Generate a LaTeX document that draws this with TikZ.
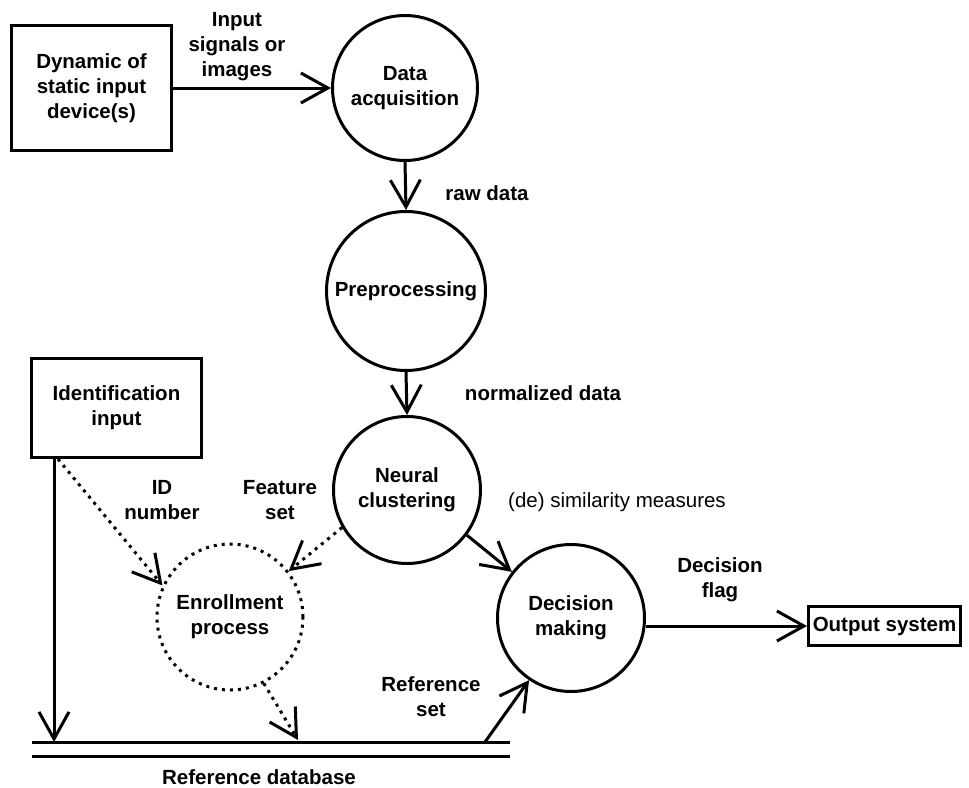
\documentclass[tikz,border=0pt]{standalone}
\usepackage{fontspec}
\setmainfont{Liberation Sans}
\usetikzlibrary{arrows.meta,calc}

\begin{document}
\begin{tikzpicture}[x=1pt, y=-1pt,
  every node/.style={font=\fontsize{20.5}{25}\selectfont\bfseries, align=center},
  box/.style={draw, line width=3pt, inner sep=0pt},
  proc/.style={draw, circle, line width=3pt, inner sep=0pt},
  enrolproc/.style={proc, dash pattern=on 3pt off 5pt},
  arr/.style={-{Straight Barb[length=27pt, width=30pt]}, line width=3pt},
  dotarr/.style={arr, dash pattern=on 3pt off 5pt},
  plainlbl/.style={font=\fontsize{20.5}{25}\selectfont\mdseries}
]
  \useasboundingbox (0,0) rectangle (969,787);

  \node[box, minimum width=160pt, minimum height=125pt] (dev) at (91.5,88) {Dynamic of\\static input\\device(s)};
  \node[proc, minimum size=145pt] (acq) at (405,88) {Data\\acquisition};
  \node[proc, minimum size=159pt] (prep) at (406,291) {Preprocessing};
  \node[proc, minimum size=147pt] (neur) at (407,490) {Neural\\clustering};
  \node[proc, minimum size=147pt] (dec) at (571,618) {Decision\\making};
  \node[enrolproc, minimum size=146pt] (enrol) at (230,617) {Enrollment\\process};
  \node[box, minimum width=170pt, minimum height=99pt] (idin) at (116.5,408) {Identification\\input};
  \node[box, minimum width=152pt, minimum height=39pt] (outsys) at (884.5,626) {Output system};

  % reference database
  \coordinate (dbl) at (32,742);
  \coordinate (dbr) at (510,742);
  \coordinate (dbl2) at (32,756);
  \coordinate (dbr2) at (510,756);
  \draw[line width=3pt] (dbl) -- (dbr);
  \draw[line width=3pt] (dbl2) -- (dbr2);
  \coordinate (idfoot) at (54,742);
  \coordinate (enrfoot) at (298,740);
  \coordinate (refstart) at (485,742);

  \draw[arr] (dev.east) -- (acq.west);
  \draw[arr] (acq.south) -- (prep.north);
  \draw[arr] (prep.south) -- (neur.north);
  \draw[arr] (neur.-37) -- (dec.142);
  \draw[arr] (dec.east |- outsys.west) -- (outsys.west);
  \draw[arr] (idin.south -| idfoot) -- (idfoot);
  \draw[arr] (refstart) -- (dec.236);
  \draw[dotarr] ($(idin.south west)+(28,0)$) -- (enrol.155);
  \draw[dotarr] (neur.210) -- (enrol.38);
  \draw[dotarr] (enrol.-63) -- (enrfoot);

  % labels
  \node at (237,47) {Input\\signals or\\images};
  \node at (487,193) {raw data};
  \node at (543,393) {normalized data};
  \node[plainlbl] at (617,502) {(de) similarity measures};
  \node at (162,500) {ID\\number};
  \node at (280,500) {Feature\\set};
  \node at (720,580) {Decision\\flag};
  \node at (431,697) {Reference\\set};
  \node[inner sep=0pt] at (259,777) {Reference database};
\end{tikzpicture}
\end{document}
